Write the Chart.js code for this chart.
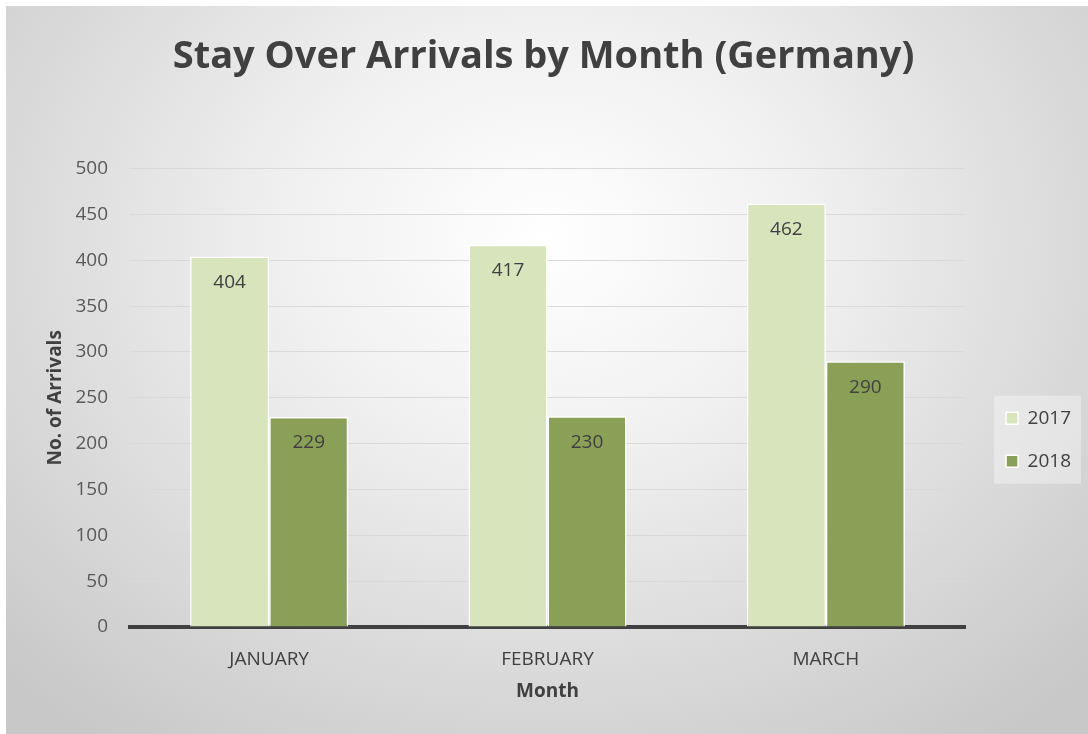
<!DOCTYPE html>
<html>
<head>
<meta charset="utf-8">
<script src="https://cdn.jsdelivr.net/npm/chart.js@4.4.1/dist/chart.umd.min.js"></script>
<style>
  html, body { margin: 0; padding: 0; background: #ffffff; overflow: hidden; }
  #frame {
    position: absolute; left: 6px; top: 6px; width: 1082px; height: 728px;
    background: radial-gradient(ellipse 70% 85% at 50% 32%, #ffffff 0%, #f0f0f0 35%, #dadada 70%, #c8c8c8 100%);
  }
</style>
</head>
<body>
<div id="frame"><canvas id="chart"></canvas></div>
<script>
const months = ['JANUARY', 'FEBRUARY', 'MARCH'];
const arrivals2017 = [404, 417, 462];
const arrivals2018 = [229, 230, 290];
const yTicks = [0, 50, 100, 150, 200, 250, 300, 350, 400, 450, 500];

const FONT = "'Open Sans', sans-serif";
const TEXT = '#404040';

// value labels, placed just inside the top of each bar
const barLabels = {
    id: 'barLabels',
    afterDatasetsDraw(chart) {
        const ctx = chart.ctx;
        ctx.save();
        ctx.font = `19px ${FONT}`;
        ctx.fillStyle = TEXT;
        ctx.textAlign = 'center';
        ctx.textBaseline = 'middle';
        chart.data.datasets.forEach((ds, i) => {
            chart.getDatasetMeta(i).data.forEach((bar, j) => {
                ctx.fillText(ds.data[j], bar.x, bar.y + 26);
            });
        });
        ctx.restore();
    }
};

// light panel behind the legend
const legendPanel = {
    id: 'legendPanel',
    beforeDraw(chart) {
        const boxes = chart.legend && chart.legend.legendHitBoxes;
        if (!boxes || !boxes.length) return;
        const first = boxes[0], last = boxes[boxes.length - 1];
        const w = Math.max(...boxes.map(b => b.width));
        const ctx = chart.ctx;
        ctx.save();
        ctx.fillStyle = 'rgba(255,255,255,0.35)';
        ctx.fillRect(first.left - 12, first.top - 13, w + 22, last.top + last.height - first.top + 26);
        ctx.restore();
    }
};

new Chart(document.getElementById('chart'), {
    type: 'bar',
    data: {
        labels: months,
        datasets: [
            {
                label: '2017',
                data: arrivals2017,
                backgroundColor: '#d8e4bc',
                borderColor: '#ffffff',
                borderWidth: 1.5,
                categoryPercentage: 0.568,
                barPercentage: 1
            },
            {
                label: '2018',
                data: arrivals2018,
                backgroundColor: '#8aa057',
                borderColor: '#ffffff',
                borderWidth: 1.5,
                categoryPercentage: 0.568,
                barPercentage: 1
            }
        ]
    },
    options: {
        responsive: true,
        maintainAspectRatio: false,
        animation: false,
        layout: { padding: { left: 0, right: 7, top: 0, bottom: 0 } },
        plugins: {
            title: {
                display: true,
                text: 'Stay Over Arrivals by Month (Germany)',
                color: TEXT,
                font: { family: FONT, size: 38, weight: 'bold' },
                padding: { top: 28, bottom: 89 }
            },
            legend: {
                position: 'right',
                fullSize: false,
                title: { display: true, text: ' ', font: { size: 19 }, padding: { top: 61, bottom: 0 } },
                labels: {
                    color: TEXT,
                    font: { family: FONT, size: 19 },
                    boxWidth: 12,
                    boxHeight: 12,
                    padding: 24
                }
            },
            tooltip: { enabled: false }
        },
        scales: {
            x: {
                grid: { display: false },
                border: { display: true, color: '#404040', width: 4 },
                ticks: { color: TEXT, font: { family: FONT, size: 19 }, padding: 13 },
                title: {
                    display: true,
                    text: 'Month',
                    color: TEXT,
                    font: { family: FONT, size: 19, weight: 'bold' },
                    padding: { top: 0, bottom: 31 }
                },
                afterFit(scale) { scale.height = 107; }
            },
            y: {
                min: 0,
                max: 500,
                afterBuildTicks(scale) { scale.ticks = yTicks.map(v => ({ value: v })); },
                grid: { color: '#d9d9d9', lineWidth: 1, drawTicks: false },
                border: { display: false },
                ticks: { color: '#595959', font: { family: FONT, size: 19 }, padding: 22 },
                title: {
                    display: true,
                    text: 'No. of Arrivals',
                    color: TEXT,
                    font: { family: FONT, size: 19, weight: 'bold' },
                    padding: { top: 38, bottom: 0 }
                },
                afterFit(scale) { scale.width = 124; }
            },
            gap: {
                type: 'linear',
                position: 'right',
                display: true,
                grid: { display: false },
                border: { display: false },
                ticks: { display: false },
                afterFit(scale) { scale.width = 17; }
            }
        }
    },
    plugins: [barLabels, legendPanel]
});
</script>
</body>
</html>
